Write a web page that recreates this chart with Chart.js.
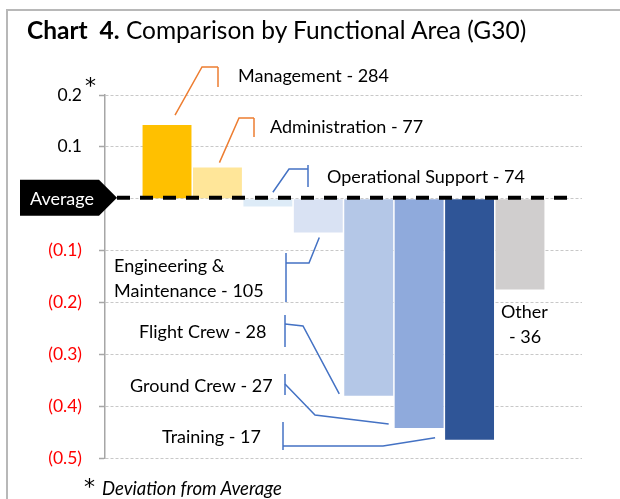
<!DOCTYPE html>
<html>
<head>
<meta charset="utf-8">
<script src="https://cdn.jsdelivr.net/npm/chart.js@4.4.0/dist/chart.umd.min.js"></script>
<style>
  html, body { margin: 0; padding: 0; background: #fff; }
  #wrap { position: relative; width: 620px; height: 499px; overflow: hidden; font-family: Lato, 'Open Sans', sans-serif; }
  #frame { position: absolute; left: 6px; top: 9px; width: 700px; height: 520px; border: 2px solid #b8b8b8; }
  #title { position: absolute; left: 27px; top: 15px; font-size: 24.5px; color: #000; white-space: pre; }
  #note { position: absolute; left: 84px; top: 475px; font-size: 18.5px; color: #000; white-space: pre; }
  #note span.star { font-family: 'DejaVu Sans', sans-serif; font-size: 22px; font-style: normal; position: relative; top: -1px; }
  #note i { margin-left: 7px; }
  #chart { position: absolute; left: 0; top: 0; }
</style>
</head>
<body>
<div id="wrap">
  <div id="frame"></div>
  <canvas id="chart" width="620" height="499"></canvas>
  <div id="title"><b>Chart  4.</b> Comparison by Functional Area (G30)</div>
  <div id="note"><span class="star">*</span><i>Deviation from Average</i></div>
</div>
<script>
// data
const categories = ['Management', 'Administration', 'Operational Support', 'Engineering & Maintenance',
                    'Flight Crew', 'Ground Crew', 'Training', 'Other'];
const counts = [284, 77, 74, 105, 28, 27, 17, 36];
const deviations = [0.142, 0.06, -0.015, -0.065, -0.38, -0.442, -0.465, -0.175];
const yTickValues = [0.2, 0.1, 0, -0.1, -0.2, -0.3, -0.4, -0.5];

const barColors = ['#FFC000', '#FFE699', '#DDEBF7', '#D9E2F3', '#B4C7E7', '#8FAADC', '#2F5597', '#D0CECE'];

// callout layout (pixels), leader lines start at the bar
const callouts = [
  { text: [0], tx: 238, ty: 76, color: '#ED7D31', anchor: b => [b.x + 8, b.y - 10], pts: [[202, 67], [218, 67]], tick: [218, 67, 87] },
  { text: [0], tx: 270, ty: 127, color: '#ED7D31', anchor: b => [b.x + 2, b.y - 5], pts: [[239, 118], [254, 118]], tick: [254, 118, 137] },
  { text: [0], tx: 327, ty: 177, color: '#4472C4', anchor: b => [b.x + 5, b.base - 7], pts: [[289, 169], [308, 169]], tick: [308, 165, 187] },
  { text: [14, 0], tx: 114, ty: 266, color: '#4472C4', anchor: b => [b.x + 1, b.y + 5], pts: [[309, 263], [286, 263]], tick: [286, 253, 302] },
  { text: [0], tx: 139, ty: 332, color: '#4472C4', anchor: b => [b.x - b.width / 2 - 5, b.y - 2], pts: [[303, 326], [285, 324]], tick: [285, 315, 347] },
  { text: [0], tx: 130, ty: 386, color: '#4472C4', anchor: b => [b.x - b.width / 2 - 6, b.y - 4], pts: [[315, 415], [285, 384]], tick: [285, 374, 395] },
  { text: [0], tx: 162, ty: 437, color: '#4472C4', anchor: b => [b.x - b.width / 2 - 10, b.y - 2], pts: [[383, 446], [283, 446]], tick: [283, 422, 450] },
  { text: [6, 8], tx: 501, ty: 312, color: null }
];

function calloutLines(i) {
  const full = categories[i] + ' - ' + counts[i];
  const spec = callouts[i].text;
  if (spec.length === 1) return [full];
  return [full.slice(0, spec[0]).trim(), full.slice(spec[0]).trim()];
}

const FONT = 'Lato, "Open Sans", sans-serif';

const decorations = {
  id: 'decorations',
  afterDatasetsDraw(chart) {
    const ctx = chart.ctx;
    const y = chart.scales.y;
    const bars = chart.getDatasetMeta(0).data;
    ctx.save();

    // leader lines
    callouts.forEach((c, i) => {
      if (!c.color) return;
      const b = bars[i];
      const a = c.anchor(b);
      ctx.strokeStyle = c.color;
      ctx.lineWidth = 1.5;
      ctx.beginPath();
      ctx.moveTo(a[0], a[1]);
      c.pts.forEach(p => ctx.lineTo(p[0], p[1]));
      ctx.stroke();
      ctx.beginPath();
      ctx.moveTo(c.tick[0], c.tick[1]);
      ctx.lineTo(c.tick[0], c.tick[2]);
      ctx.stroke();
    });

    // labels
    ctx.fillStyle = '#000';
    ctx.font = '18px ' + FONT;
    ctx.textBaseline = 'middle';
    ctx.textAlign = 'left';
    callouts.forEach((c, i) => {
      const lines = calloutLines(i);
      lines.forEach((t, k) => {
        const dx = (k === 1 && i === 7) ? c.text[1] : 0;
        ctx.fillText(t, c.tx + dx, c.ty + k * 25);
      });
    });

    // average line
    const y0 = y.getPixelForValue(0) - 1;
    ctx.strokeStyle = '#000';
    ctx.lineWidth = 4;
    ctx.setLineDash([13, 10]);
    ctx.beginPath();
    ctx.moveTo(117, y0);
    ctx.lineTo(575, y0);
    ctx.stroke();
    ctx.setLineDash([]);

    // average tag
    ctx.fillStyle = '#000';
    ctx.beginPath();
    ctx.moveTo(20, y0 - 18);
    ctx.lineTo(99, y0 - 18);
    ctx.lineTo(117, y0);
    ctx.lineTo(99, y0 + 18);
    ctx.lineTo(20, y0 + 18);
    ctx.closePath();
    ctx.fill();
    ctx.fillStyle = '#fff';
    ctx.font = '18px ' + FONT;
    ctx.textAlign = 'center';
    ctx.fillText('Average', 62, y0 + 1);

    // asterisk beside top tick
    ctx.fillStyle = '#000';
    ctx.font = '22px "DejaVu Sans", sans-serif';
    ctx.textAlign = 'left';
    ctx.textBaseline = 'alphabetic';
    ctx.fillText('*', 85, y.getPixelForValue(0.2) - 2);
    ctx.restore();
  }
};

new Chart(document.getElementById('chart'), {
  type: 'bar',
  data: {
    datasets: [{
      data: deviations.map((v, i) => ({ x: i, y: v })),
      backgroundColor: barColors,
      borderWidth: 0,
      categoryPercentage: 1,
      barPercentage: 0.97
    }]
  },
  options: {
    responsive: false,
    animation: false,
    devicePixelRatio: 1,
    layout: { padding: { top: 95, right: 38, bottom: 41, left: 0 } },
    plugins: { legend: { display: false }, tooltip: { enabled: false } },
    scales: {
      x: { type: 'linear', min: -1.23, max: 8.23, offset: false, display: false },
      y: {
        min: yTickValues[yTickValues.length - 1],
        max: yTickValues[0],
        afterBuildTicks: s => { s.ticks = yTickValues.map(v => ({ value: v })); },
        afterFit: s => { s.width = 105; },
        grid: { color: '#c8c8c8', lineWidth: 1, tickColor: '#a6a6a6', tickLength: 6, tickWidth: 1.5 },
        border: { color: '#a6a6a6', width: 1.5, dash: [3, 2] },
        ticks: {
          padding: 17,
          font: { family: FONT, size: 17.5 },
          color: c => c.tick.value < 0 ? '#FF0000' : '#000',
          callback: v => v < -1e-9 ? '(' + Math.abs(v).toFixed(1) + ')' : (v > 1e-9 ? v.toFixed(1) : '')
        }
      }
    }
  },
  plugins: [decorations]
});
</script>
</body>
</html>
